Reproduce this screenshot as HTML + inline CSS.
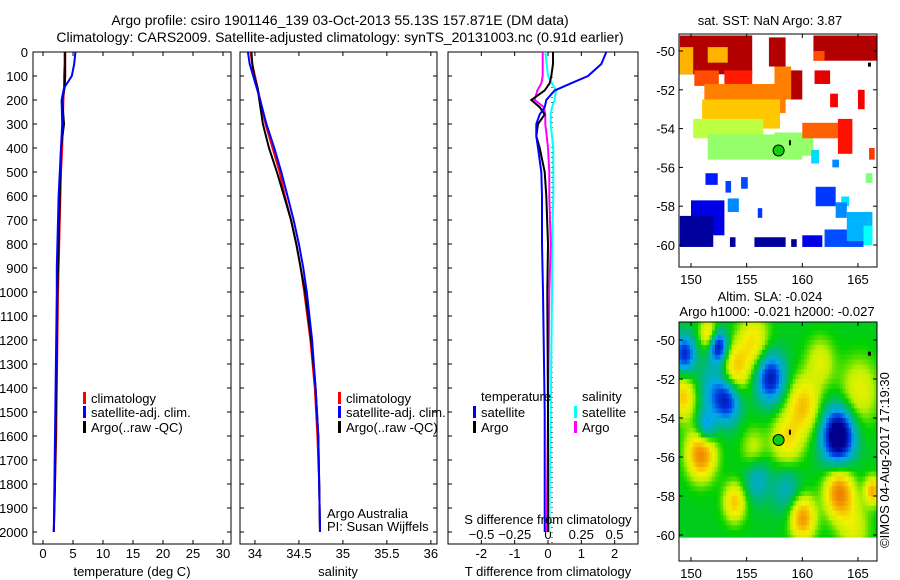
<!DOCTYPE html>
<html><head><meta charset="utf-8">
<style>
body{margin:0;background:#fff}
svg{display:block;font-family:"Liberation Sans",sans-serif}
text{font-size:13px;fill:#000}
</style></head>
<body>
<svg id="fig" width="900" height="580" viewBox="0 0 900 580" xmlns="http://www.w3.org/2000/svg">
<text x="340" y="25" text-anchor="middle" style="font-size:14px">Argo profile: csiro 1901146_139 03-Oct-2013 55.13S 157.871E (DM data)</text>
<text x="340" y="42" text-anchor="middle" style="font-size:14px">Climatology: CARS2009. Satellite-adjusted climatology: synTS_20131003.nc (0.91d earlier)</text>
<text x="770" y="25" text-anchor="middle">sat. SST: NaN Argo: 3.87</text>
<text x="770" y="301" text-anchor="middle">Altim. SLA: -0.024</text>
<text x="777" y="316" text-anchor="middle">Argo h1000: -0.021 h2000: -0.027</text>
<text transform="translate(889,548) rotate(-90)">©IMOS 04-Aug-2017 17:19:30</text>
<text x="327" y="518">Argo Australia</text>
<text x="327" y="531">PI: Susan Wijffels</text>
<g id="g"></g>
</svg>
<script>
// ---- profile data ----
const depths=[0,50,100,150,200,300,400,500,600,700,800,900,1000,1200,1400,1600,1800,2000];
const tempClim=[3.6,3.6,3.5,3.5,3.4,3.3,3.2,3.0,2.9,2.8,2.7,2.6,2.5,2.4,2.3,2.2,2.0,1.8];
const tempSat=[5.4,5.2,4.8,3.5,3.1,3.2,3.0,2.8,2.6,2.5,2.4,2.3,2.3,2.2,2.1,2.0,1.9,1.8];
const tempArgo=[3.7,3.7,3.7,3.6,3.2,3.5,3.0,2.9,2.8,2.7,2.6,2.5,2.4,2.3,2.2,2.1,2.0,1.8];
const salClim=[33.95,33.97,34.0,34.03,34.06,34.12,34.2,34.28,34.34,34.41,34.47,34.52,34.56,34.63,34.68,34.71,34.73,34.74];
const salSat=[33.92,33.94,33.98,34.02,34.06,34.13,34.22,34.3,34.37,34.44,34.5,34.55,34.59,34.65,34.69,34.72,34.73,34.74];
const salArgo=[33.96,33.97,33.99,34.03,34.05,34.09,34.16,34.25,34.33,34.41,34.47,34.52,34.57,34.64,34.69,34.72,34.73,34.74];
const diffDepths=[0,50,100,130,160,200,230,260,300,350,400,500,600,800,1000,1500,2000];
const dTSat=[1.75,1.6,1.2,0.7,0.2,-0.05,-0.1,-0.25,-0.35,-0.35,-0.3,-0.2,-0.18,-0.18,-0.15,-0.1,-0.1];
const dTArgo=[0.15,0.15,0.1,0.05,-0.1,-0.5,-0.25,-0.1,-0.3,-0.35,-0.25,-0.1,-0.05,0,-0.02,0,0];
const dSSat=[-0.02,-0.01,0.0,0.03,0.06,0.05,0.03,0.02,0.02,0.03,0.04,0.04,0.04,0.03,0.03,0.02,0.01];
const dSArgo=[-0.04,-0.04,-0.04,-0.05,-0.08,-0.1,-0.03,-0.02,-0.02,-0.01,0,0.01,0.01,0.02,0.01,0.0,-0.01];
const depthTicks=[0,100,200,300,400,500,600,700,800,900,1000,1100,1200,1300,1400,1500,1600,1700,1800,1900,2000];
const tempTicks=[0,5,10,15,20,25,30];
const salTicks=[34,34.5,35,35.5,36];
const tdTicks=[-2,-1,0,1,2];
const sdTicks=[-0.5,-0.25,0,0.25,0.5];
// ---- SST map blocks: [lon0,lat0,lon1,lat1,value 0-10] ----
const sstBlocks=[[149,-49.2,155.5,-51.2,9.5],[149,-49.8,150.2,-51.2,7],[151.5,-49.8,153.3,-50.6,7],[150.3,-51,152.5,-51.8,8],[153,-51,155.5,-51.7,8.5],[151.2,-51.7,158.5,-53.2,7.5],[151,-52.5,158,-54,6.8],[150.2,-53.5,156.5,-54.5,5.6],[151.5,-54.3,160,-55.6,5.2],[157.5,-54.2,161,-55.4,5.2],[158.5,-51,160,-52.5,9.5],[157.5,-50.8,159,-52.5,7.5],[157,-49.3,158.5,-50.8,9.5],[161,-49.2,166.7,-50.5,9.5],[160,-53.7,163.5,-54.5,7.8],[163.2,-53.5,164.5,-55.3,8.6],[161.1,-51,162.5,-51.7,9],[162.5,-52.2,163.2,-52.9,8.8],[165,-52,165.6,-53,8.8],[166,-55,166.5,-55.6,8.2],[161,-50,162,-50.5,8],[160.8,-55.1,161.5,-55.8,3.4],[162.7,-55.6,163.3,-56,2.6],[165.7,-56.3,166.3,-56.8,5],[163.5,-57.5,164.2,-58,3.5],[151.3,-56.3,152.4,-56.9,1.5],[153.1,-56.7,153.6,-57.3,1.9],[154.5,-56.5,155.1,-57.1,2],[150,-57.7,153,-59.5,1],[149,-58.5,152,-60.1,0.3],[153.3,-57.6,154.3,-58.3,2.6],[156,-58.1,156.4,-58.6,1.8],[155.7,-59.6,158.5,-60.1,0.3],[153.5,-59.6,154,-60.1,0.3],[159,-59.7,159.5,-60.1,0.2],[160,-59.5,161.8,-60.1,1],[161.2,-57,163,-58,1.8],[163,-57.8,164,-58.6,2.6],[162,-59.2,165.5,-60.1,2],[164,-58.3,166.3,-59.8,3],[165.5,-59,166.3,-60,3.8]];
// ---- SLA field blobs: [lon,lat,amplitude,sigma deg] ----
const slaBlobs=[[149.3,-50.6,-0.8,0.7],[152.3,-50.2,-1,0.6],[157,-51.8,-0.9,0.9],[153.2,-53,-0.7,0.8],[151.2,-54.4,-0.6,0.6],[163.1,-54.8,-1.3,1.0],[152,-52.5,-0.45,1.0],[155.8,-57,-0.4,0.8],[158.5,-57.5,-0.35,0.9],[150.8,-55.7,0.9,0.9],[153.8,-51.4,0.6,0.9],[149.2,-52.8,0.6,0.8],[160,-53.2,0.6,1.0],[163.2,-57.7,0.9,0.9],[159.9,-59,0.8,0.8],[153.8,-58.2,0.6,0.7],[166.2,-57.6,0.7,0.5],[151.5,-49.6,0.6,0.6],[155.5,-50,0.5,1.0],[158.5,-55,0.5,1.0],[165,-52.5,0.4,1.2],[164.5,-59.5,0.35,1.0],[155.5,-55.5,0.3,0.8],[161.5,-51,0.35,0.9]];
const mapLonTicks=[150,155,160,165];
const mapLatTicks=[-50,-52,-54,-56,-58,-60];
const floatPos=[157.87,-55.13];

const NS="http://www.w3.org/2000/svg";
const G=document.getElementById('g');
function el(tag,attrs,parent){const e=document.createElementNS(NS,tag);for(const k in attrs)e.setAttribute(k,attrs[k]);(parent||G).appendChild(e);return e;}
function txt(x,y,s,anchor,parent){const t=el('text',{x:x,y:y,'text-anchor':anchor||'start'},parent);t.textContent=s;return t;}

const TOP=52, BOT=544;
const yD=d=>TOP+d*0.24;
function panel(name,x0,x1,xmin,xmax){
  const sx=v=>x0+(v-xmin)/(xmax-xmin)*(x1-x0);
  const g=el('g',{});
  
  
  el('rect',{x:x0,y:TOP,width:x1-x0,height:BOT-TOP,fill:'none',stroke:'#000','stroke-width':1},g);
  depthTicks.forEach(d=>{const y=yD(d);el('line',{x1:x0,x2:x0+4,y1:y,y2:y,stroke:'#000'},g);el('line',{x1:x1-4,x2:x1,y1:y,y2:y,stroke:'#000'},g);});
  return {sx,g};
}
function line(p,xs,ds,color,w,name){
  const pts=xs.map((v,i)=>p.sx(v).toFixed(1)+','+yD(ds[i]).toFixed(1)).join(' ');
  const l=el('polyline',{points:pts,fill:'none',stroke:color,'stroke-width':w},p.g);
  
  
}
function legendRow(g,x,y,color,label,name){
  el('rect',{x:x,y:y-9,width:3,height:12,fill:color},g);
  const t=txt(x+8,y+2,label,'start',g);
  
  
}
depthTicks.forEach(d=>{const t=txt(28,yD(d)+5,String(d),'end');});

const p1=panel('temperature-panel',33,231,-1.67,31.33);
tempTicks.forEach(v=>{const x=p1.sx(v);el('line',{x1:x,x2:x,y1:BOT,y2:BOT-4,stroke:'#000'},p1.g);el('line',{x1:x,x2:x,y1:TOP,y2:TOP+4,stroke:'#000'},p1.g);txt(x,558,String(v),'middle',p1.g);});
line(p1,tempClim,depths,'#f00',2,'temp-climatology-line');
line(p1,tempArgo,depths,'#000',2,'temp-argo-line');
line(p1,tempSat,depths,'#00f',2,'temp-satellite-line');
{const t=txt(132,576,'temperature (deg C)','middle');}
legendRow(p1.g,83,401,'#f00','climatology','legend-climatology');
legendRow(p1.g,83,415,'#00f','satellite-adj. clim.','legend-satellite');
legendRow(p1.g,83,430,'#000','Argo(..raw -QC)','legend-argo');

const p2=panel('salinity-panel',240,437,33.83,36.07);
salTicks.forEach(v=>{const x=p2.sx(v);el('line',{x1:x,x2:x,y1:BOT,y2:BOT-4,stroke:'#000'},p2.g);el('line',{x1:x,x2:x,y1:TOP,y2:TOP+4,stroke:'#000'},p2.g);txt(x,558,String(v),'middle',p2.g);});
line(p2,salClim,depths,'#f00',2,'sal-climatology-line');
line(p2,salArgo,depths,'#000',2,'sal-argo-line');
line(p2,salSat,depths,'#00f',2,'sal-satellite-line');
{const t=txt(338,576,'salinity','middle');}
legendRow(p2.g,338,401,'#f00','climatology','legend-climatology-2');
legendRow(p2.g,338,415,'#00f','satellite-adj. clim.','legend-satellite-2');
legendRow(p2.g,338,430,'#000','Argo(..raw -QC)','legend-argo-2');

const p3=panel('difference-panel',448,638,-3.0,2.7);
const sxS=v=>548+v*133;
tdTicks.forEach(v=>{const x=p3.sx(v);el('line',{x1:x,x2:x,y1:BOT,y2:BOT-4,stroke:'#000'},p3.g);el('line',{x1:x,x2:x,y1:TOP,y2:TOP+4,stroke:'#000'},p3.g);txt(x,558,String(v),'middle',p3.g);});
sdTicks.forEach(v=>{txt(sxS(v),539,String(v).replace('-','−'),'middle',p3.g);});
el('line',{x1:552,x2:552,y1:TOP+20,y2:BOT,stroke:'#000','stroke-dasharray':'1,4'},p3.g);
function lineS(xs,ds,color,name){const pts=xs.map((v,i)=>sxS(v).toFixed(1)+','+yD(ds[i]).toFixed(1)).join(' ');const l=el('polyline',{points:pts,fill:'none',stroke:color,'stroke-width':2},p3.g);}
lineS(dSSat,diffDepths,'#0ff','sdiff-satellite-line');
lineS(dSArgo,diffDepths,'#f0f','sdiff-argo-line');
line(p3,dTArgo,diffDepths,'#000',2,'tdiff-argo-line');
line(p3,dTSat,diffDepths,'#00f',2,'tdiff-satellite-line');
txt(481,401,'temperature','start',p3.g);
legendRow(p3.g,473,415,'#00f','satellite','legend-t-satellite');
legendRow(p3.g,473,430,'#000','Argo','legend-t-argo');
txt(582,401,'salinity','start',p3.g);
legendRow(p3.g,574,415,'#0ff','satellite','legend-s-satellite');
legendRow(p3.g,574,430,'#f0f','Argo','legend-s-argo');
txt(548,524,'S difference from climatology','middle',p3.g);
{const t=txt(548,576,'T difference from climatology','middle');}

function jet(v){v=Math.max(0,Math.min(1,v));
  const r=Math.max(0,Math.min(1,1.5-Math.abs(4*v-3))),g=Math.max(0,Math.min(1,1.5-Math.abs(4*v-2))),b=Math.max(0,Math.min(1,1.5-Math.abs(4*v-1)));
  return 'rgb('+Math.round(r*255)+','+Math.round(g*255)+','+Math.round(b*255)+')';}
function mapFrame(name,x0,y0,x1,y1,lat50y,lat60y){
  const sx=lon=>691+(lon-150)*11.13;
  const sy=lat=>lat50y+(-50-lat)*(lat60y-lat50y)/10;
  const g=el('g',{});
  
  
  const clip='clip-'+name;
  const cp=el('clipPath',{id:clip},g);el('rect',{x:x0,y:y0,width:x1-x0,height:y1-y0},cp);
  const inner=el('g',{'clip-path':'url(#'+clip+')'},g);
  return {sx,sy,g,inner,x0,y0,x1,y1};
}
function mapAxes(m){
  el('rect',{x:m.x0,y:m.y0,width:m.x1-m.x0,height:m.y1-m.y0,fill:'none',stroke:'#000'},m.g);
  mapLonTicks.forEach(l=>{const x=m.sx(l);el('line',{x1:x,x2:x,y1:m.y1,y2:m.y1-4,stroke:'#000'},m.g);el('line',{x1:x,x2:x,y1:m.y0,y2:m.y0+4,stroke:'#000'},m.g);txt(x,m.y1+17,String(l),'middle',m.g);});
  mapLatTicks.forEach(l=>{const y=m.sy(l);el('line',{x1:m.x0,x2:m.x0+4,y1:y,y2:y,stroke:'#000'},m.g);el('line',{x1:m.x1-4,x2:m.x1,y1:y,y2:y,stroke:'#000'},m.g);txt(m.x0-4,y+5,String(l),'end',m.g);});
  const c=el('circle',{cx:m.sx(floatPos[0]),cy:m.sy(floatPos[1]),r:5.5,fill:'#1c1',stroke:'#000','stroke-width':1},m.g);
  
  
  el('rect',{x:m.sx(158.8),y:m.sy(-54.6),width:2,height:5,fill:'#000'},m.g);
  el('rect',{x:m.sx(165.9),y:m.sy(-50.6),width:3,height:4,fill:'#000'},m.g);
}
const m1=mapFrame('sst-map',679,34,877,267,51,245);
sstBlocks.forEach(b=>{const x=m1.sx(b[0]),y=m1.sy(b[1]);const r=el('rect',{x:x,y:y,width:m1.sx(b[2])-x,height:m1.sy(b[3])-y,fill:jet(b[4]/10)},m1.inner);});
mapAxes(m1);

const m2=mapFrame('sla-map',679,322,877,561,340,535);
const stops=[[-1.0,[0,0,140]],[-0.7,[0,60,230]],[-0.45,[0,170,230]],[-0.2,[0,180,140]],[0.05,[0,210,0]],[0.25,[190,240,0]],[0.45,[245,240,0]],[0.75,[245,160,0]],[1.1,[230,90,0]]];
function slaColor(v){if(v<=stops[0][0])return 'rgb('+stops[0][1]+')';for(let i=1;i<stops.length;i++){if(v<=stops[i][0]){const a=stops[i-1],b=stops[i],t=(v-a[0])/(b[0]-a[0]);return 'rgb('+a[1].map((c,k)=>Math.round(c+(b[1][k]-c)*t)).join(',')+')';}}return 'rgb('+stops[stops.length-1][1]+')';}
const step=0.25;
for(let lon=148.9;lon<166.7;lon+=step){for(let lat=-49;lat>-60.1;lat-=step){
  let v=0;slaBlobs.forEach(b=>{const d2=((lon-b[0])**2+(lat-b[1])**2)/(b[3]*b[3]);v+=b[2]*Math.exp(-d2/2);});
  const x=m2.sx(lon),y=m2.sy(lat);
  const yb=Math.min(m2.sy(lat-step),m2.sy(-60.1));
  el('rect',{x:x.toFixed(1),y:y.toFixed(1),width:(m2.sx(lon+step)-x+0.6).toFixed(1),height:(yb-y+0.6).toFixed(1),fill:slaColor(v)},m2.inner);
}}
mapAxes(m2);
</script>
</body></html>
